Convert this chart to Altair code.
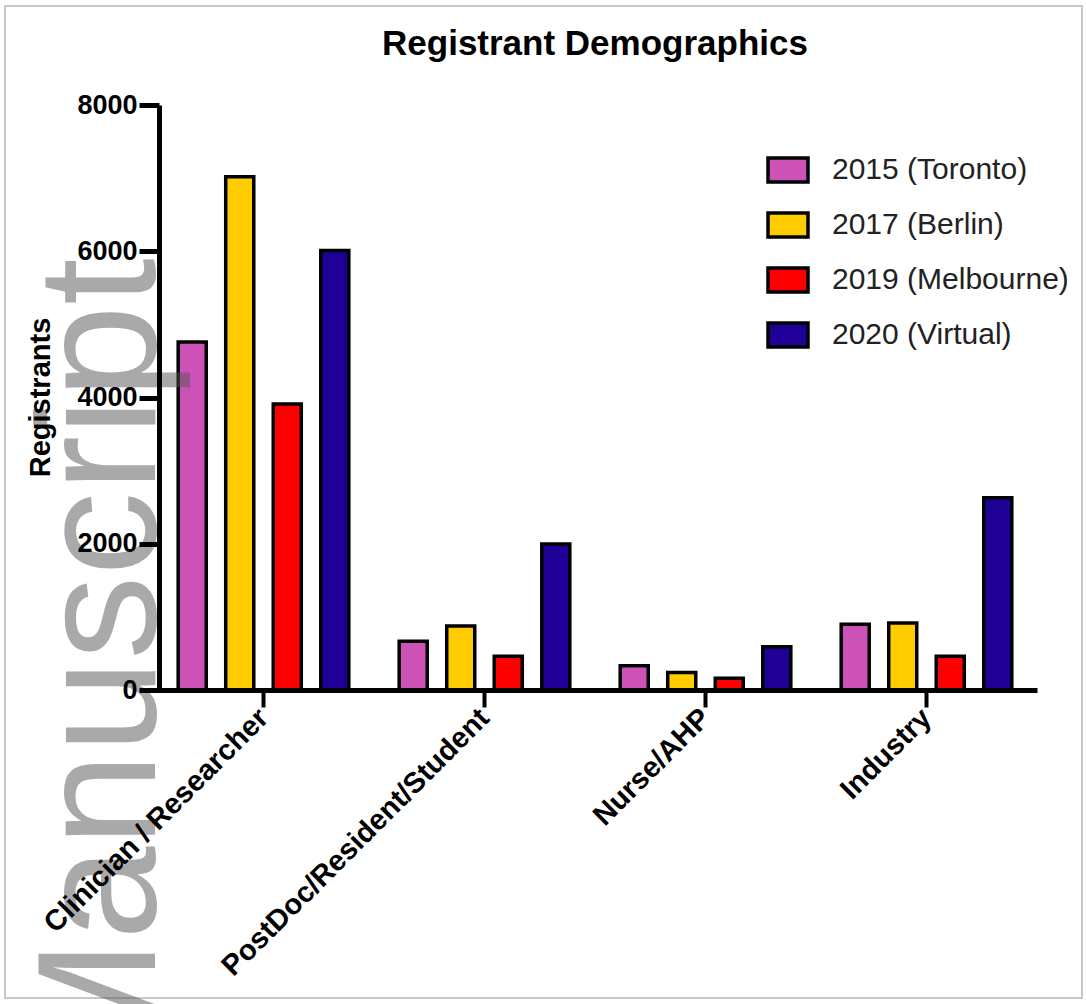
import altair as alt
import pandas as pd

# Registrant counts per professional group, one list per meeting
categories = ["Clinician / Researcher", "PostDoc/Resident/Student", "Nurse/AHP", "Industry"]
meetings = ["2015 (Toronto)", "2017 (Berlin)", "2019 (Melbourne)", "2020 (Virtual)"]
toronto_2015 = [4760, 665, 330, 900]
berlin_2017 = [7020, 875, 240, 915]
melbourne_2019 = [3910, 460, 160, 460]
virtual_2020 = [6010, 1995, 590, 2630]
meeting_colors = ["#CC52B8", "#FFCC00", "#FF0000", "#1E0096"]
y_ticks = [0, 2000, 4000, 6000, 8000]
watermark_word = ["Manuscript"]

rows = []
for meeting, values in zip(meetings, [toronto_2015, berlin_2017, melbourne_2019, virtual_2020]):
    for group, count in zip(categories, values):
        rows.append({"group": group, "meeting": meeting, "registrants": count})
df = pd.DataFrame(rows)

FONT = "Liberation Sans"

bars = alt.Chart(df).mark_bar(stroke="black", strokeWidth=3.5).encode(
    x=alt.X(
        "group:N",
        sort=categories,
        scale=alt.Scale(paddingInner=0, paddingOuter=0),
        axis=alt.Axis(
            title=None,
            labelAngle=-45,
            labelAlign="right",
            labelBaseline="middle",
            labelFont=FONT,
            labelFontSize=29,
            labelFontWeight="bold",
            labelColor="black",
            labelPadding=6,
            labelLimit=600,
            tickSize=17,
            tickWidth=4,
            tickColor="black",
            domainColor="black",
            domainWidth=5,
            zindex=1,
        ),
    ),
    xOffset=alt.XOffset(
        "meeting:N",
        sort=meetings,
        scale=alt.Scale(paddingInner=0.41, paddingOuter=0.53),
    ),
    y=alt.Y(
        "registrants:Q",
        scale=alt.Scale(domain=[0, 8000], nice=False),
        axis=alt.Axis(
            values=y_ticks,
            format="d",
            title="Registrants",
            titleFont=FONT,
            titleFontSize=29,
            titleFontWeight="bold",
            titleColor="black",
            titleAngle=270,
            titleAlign="center",
            titleBaseline="middle",
            titleX=-119,
            titleY=292,
            labelFont=FONT,
            labelFontSize=27,
            labelFontWeight="bold",
            labelColor="black",
            labelPadding=2,
            labelOverlap=False,
            labelFlush=False,
            tickSize=20,
            tickWidth=5,
            tickColor="black",
            domainColor="black",
            domainWidth=5,
            grid=False,
            offset=-6,
            zindex=1,
        ),
    ),
    color=alt.Color(
        "meeting:N",
        sort=meetings,
        scale=alt.Scale(domain=meetings, range=meeting_colors),
        legend=alt.Legend(
            title=None,
            orient="none",
            legendX=613,
            legendY=43,
            padding=0,
            symbolType="M-1,-0.6L1,-0.6L1,0.6L-1,0.6Z",
            symbolSize=1600,
            symbolStrokeColor="black",
            symbolStrokeWidth=3.5,
            symbolOpacity=1,
            labelFont=FONT,
            labelFontSize=30,
            labelColor="#222222",
            labelOffset=22,
            labelLimit=400,
            rowPadding=14,
        ),
    ),
)

# Large translucent vertical watermark on the left edge
watermark = alt.Chart(pd.DataFrame({"word": watermark_word})).mark_text(
    font=FONT,
    fontSize=168,
    angle=270,
    align="left",
    baseline="alphabetic",
    color="#555555",
    opacity=0.5,
).encode(
    x=alt.value(2),
    y=alt.value(975),
    text="word:N",
)

# Thin light frame around the whole figure
frame = alt.Chart(pd.DataFrame({"word": watermark_word})).mark_rect(
    filled=False,
    stroke="#c8c8c8",
    strokeWidth=2,
).encode(
    x=alt.value(-148),
    x2=alt.value(929),
    y=alt.value(-99),
    y2=alt.value(893),
)

chart = alt.layer(frame, bars, watermark).properties(
    width=884,
    height=585,
    autosize=alt.AutoSizeParams(type="none"),
    padding={"left": 153, "top": 105, "right": 49, "bottom": 314},
    title=alt.TitleParams(
        "Registrant Demographics",
        font=FONT,
        fontSize=35,
        fontWeight="bold",
        color="black",
        anchor="middle",
        frame="group",
        baseline="alphabetic",
        offset=-85,
    ),
).configure(
    background="white",
    view=alt.ViewConfig(stroke="transparent", strokeWidth=0),
)

chart.save("out.html", embed_options={"renderer": "svg", "actions": False})
